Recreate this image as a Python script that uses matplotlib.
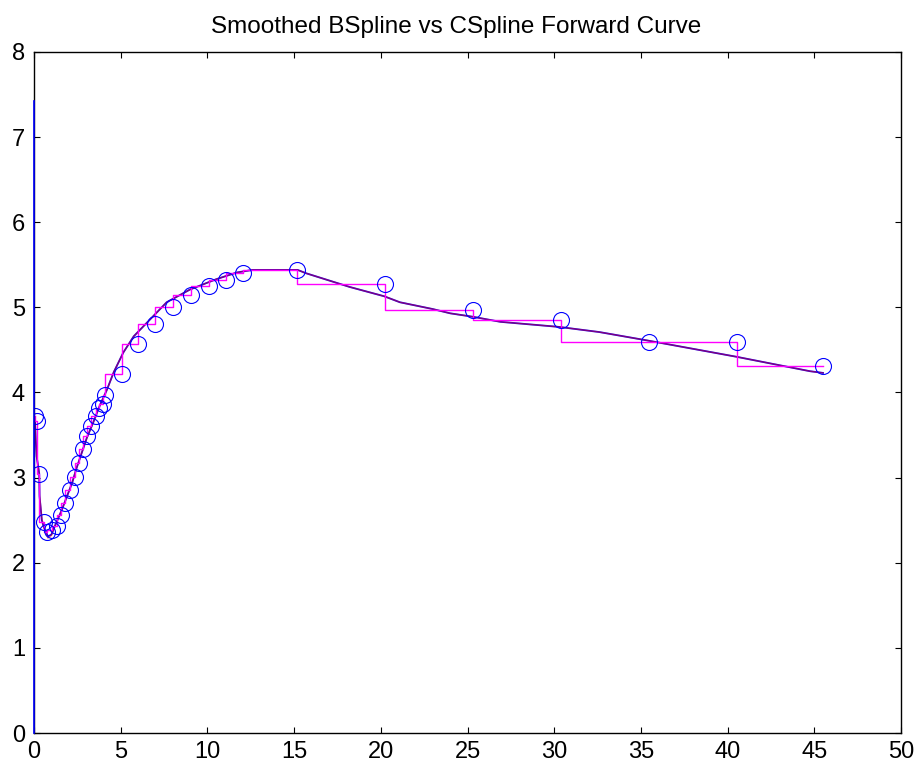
import matplotlib.pyplot as plt

plt.rcParams['font.family'] = ['Liberation Sans', 'DejaVu Sans']

# market forward points (maturity in years, rate in %)
mkt_t = [0.05, 0.20, 0.30, 0.55, 0.75, 1.05, 1.30, 1.55, 1.80, 2.05,
         2.35, 2.60, 2.80, 3.05, 3.30, 3.55, 3.75, 3.95, 4.12, 5.05,
         6.00, 7.00, 8.00, 9.05, 10.07, 11.05, 12.08, 15.18, 20.25, 25.30,
         30.40, 35.45, 40.55, 45.50]
mkt_fwd = [3.72, 3.67, 3.04, 2.48, 2.36, 2.38, 2.43, 2.56, 2.70, 2.85,
           3.01, 3.17, 3.34, 3.49, 3.61, 3.72, 3.82, 3.87, 3.97, 4.22,
           4.57, 4.80, 5.00, 5.15, 5.25, 5.32, 5.40, 5.44, 5.27, 4.97,
           4.85, 4.59, 4.59, 4.31]

# smoothed curves (bspline starts with a spike at t=0)
spike_t = [0.0, 0.0]
spike_fwd = [0.0, 7.43]
curve_t = [0.05, 0.10, 0.15, 0.30, 0.32, 0.45, 0.55, 0.80,
           1.00, 1.20, 1.60, 1.90, 2.20, 2.45, 2.75, 3.05, 3.40, 3.80,
           4.20, 4.60, 5.15, 5.75, 6.70, 7.65, 9.00, 10.50, 11.70, 12.60,
           15.20, 15.70, 18.20, 20.20, 21.10, 23.00, 24.00, 25.30, 26.90, 30.30,
           32.60, 35.40, 40.50, 44.75, 45.50]
bspline_fwd = [3.70, 3.45, 3.25, 3.05, 2.78, 2.50, 2.43, 2.31,
               2.33, 2.43, 2.62, 2.78, 2.94, 3.11, 3.29, 3.47, 3.64, 3.85,
               4.03, 4.24, 4.47, 4.66, 4.86, 5.06, 5.21, 5.33, 5.41, 5.44,
               5.44, 5.40, 5.24, 5.13, 5.06, 4.98, 4.93, 4.89, 4.83, 4.77,
               4.71, 4.61, 4.42, 4.25, 4.23]
cspline_fwd = [3.68, 3.45, 3.25, 3.05, 2.80, 2.52, 2.42, 2.29,
               2.32, 2.43, 2.62, 2.78, 2.94, 3.11, 3.29, 3.47, 3.64, 3.85,
               4.03, 4.24, 4.47, 4.66, 4.86, 5.06, 5.21, 5.33, 5.41, 5.44,
               5.44, 5.40, 5.24, 5.13, 5.06, 4.98, 4.93, 4.89, 4.83, 4.77,
               4.71, 4.61, 4.42, 4.25, 4.23]

fig = plt.figure(figsize=(9.17, 7.69), dpi=100)
ax = fig.add_axes([0.0371, 0.0468, 0.9455, 0.8856])

ax.plot(spike_t, spike_fwd, color='#0000ff', lw=1.2, clip_on=False, zorder=3)
ax.plot(curve_t, bspline_fwd, color='#0000ff', lw=1.3)
ax.plot(curve_t, cspline_fwd, color='#ff0000', lw=1.0, alpha=0.5)
ax.step(mkt_t, mkt_fwd, where='pre', color='#ff00ff', lw=1.0)
ax.plot(mkt_t, mkt_fwd, 'o', mfc='none', mec='#0000ff', ms=11.5, mew=0.8)

ax.set_xlim(0, 50)
ax.set_ylim(0, 8)
ax.set_xticks(range(0, 51, 5))
ax.set_yticks(range(0, 9))
ax.tick_params(direction='in', length=4, width=0.8, labelsize=17,
               top=True, right=True)
ax.tick_params(axis='y', pad=6.5)
ax.tick_params(axis='x', pad=5.5)
for s in ax.spines.values():
    s.set_linewidth(1.0)

ax.set_title('Smoothed BSpline vs CSpline Forward Curve', fontsize=17.5,
             pad=14, x=0.487)

fig.savefig('out.png', dpi=100)
